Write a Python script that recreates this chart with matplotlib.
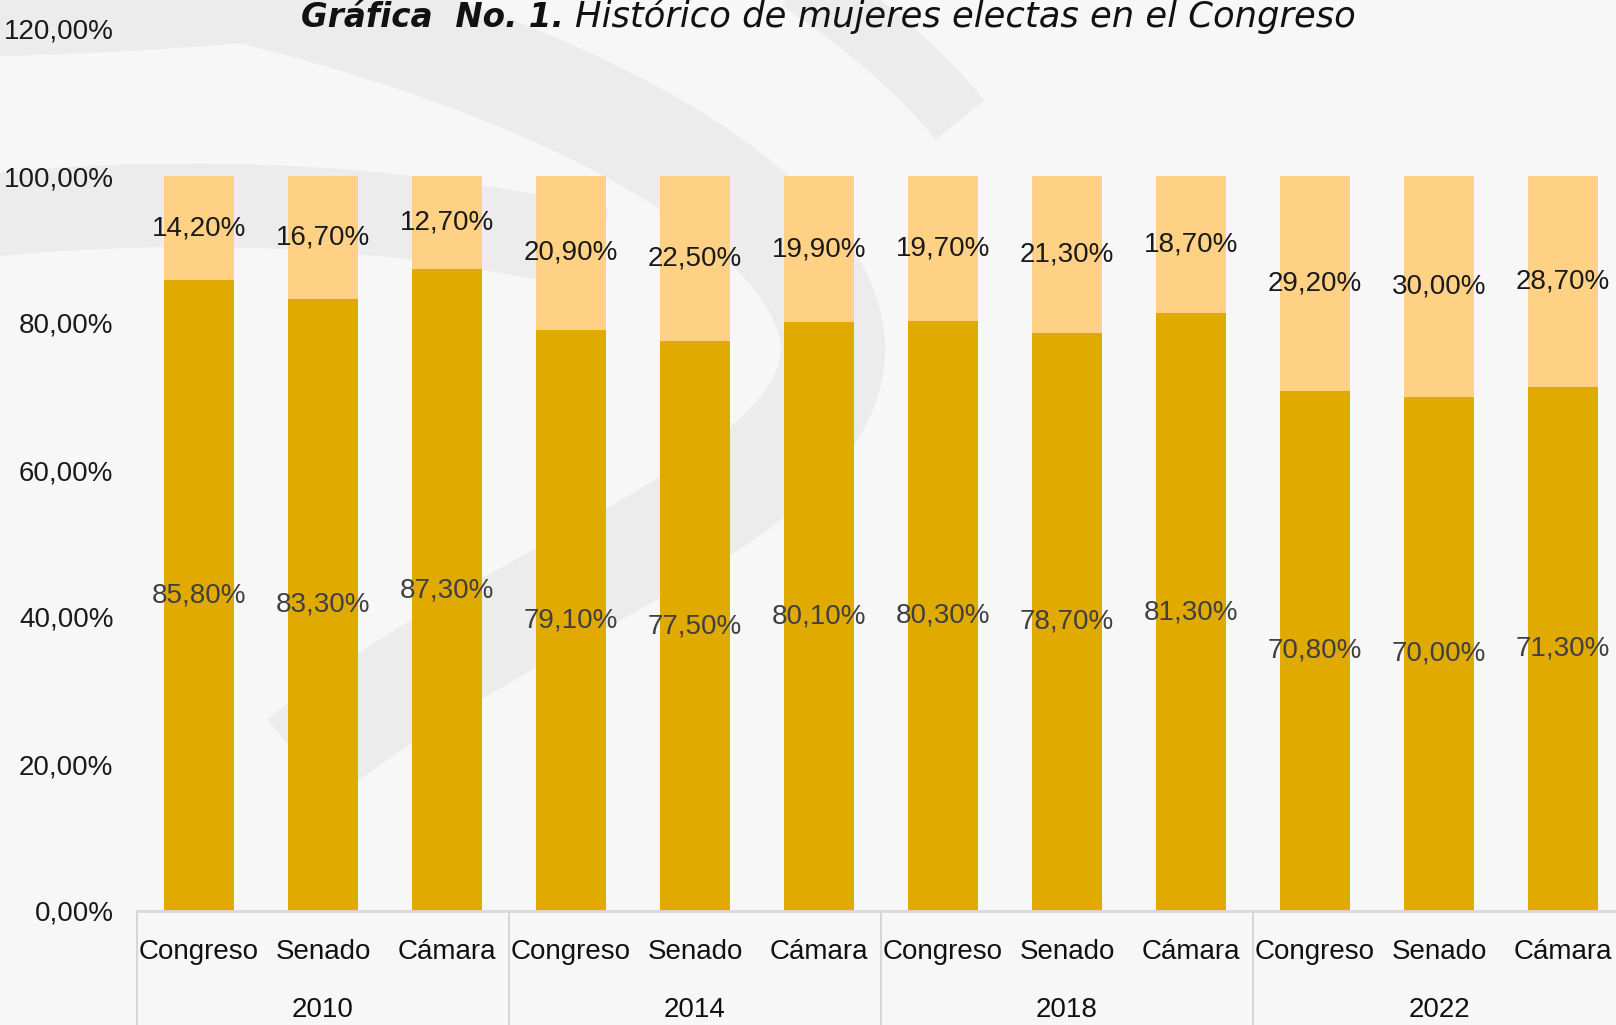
import matplotlib
matplotlib.use("Agg")
import matplotlib.pyplot as plt
import matplotlib.transforms as mtransforms
from matplotlib.path import Path
from matplotlib.patches import PathPatch
import numpy as np

# ---- data ----
years = ["2010", "2014", "2018", "2022"]
chambers = ["Congreso", "Senado", "Cámara"]
hombres = [85.8, 83.3, 87.3, 79.1, 77.5, 80.1, 80.3, 78.7, 81.3, 70.8, 70.0, 71.3]
mujeres = [14.2, 16.7, 12.7, 20.9, 22.5, 19.9, 19.7, 21.3, 18.7, 29.2, 30.0, 28.7]
yticks = [0, 20, 40, 60, 80, 100, 120]

dark = "#E1AA00"
light = "#FFD185"

W, H = 1616, 1025
fig = plt.figure(figsize=(W / 100, H / 100), dpi=100)
fig.patch.set_facecolor("#f7f7f7")

plt.rcParams['font.family'] = ['Liberation Sans', 'DejaVu Sans']

# faint watermark bands (decorative background)
bg = fig.add_axes([0, 0, 1, 1], zorder=-1)
bg.set_xlim(0, W); bg.set_ylim(H, 0); bg.axis("off")
def band(pts, lw, c="#ececec"):
    codes = [Path.MOVETO] + [Path.CURVE4] * (len(pts) - 1)
    bg.add_patch(PathPatch(Path(pts, codes), fill=False, lw=lw, ec=c, capstyle="butt"))
band([(150, -30), (600, 60), (900, 250), (820, 400),
      (760, 520), (500, 600), (300, 760)], 75)
band([(-10, 215), (200, 195), (400, 205), (600, 250)], 60)
band([(-10, 15), (150, 10), (300, 0), (420, -20)], 60)
band([(800, -20), (860, 20), (920, 70), (960, 120)], 45)

x0 = 137 / W
ax = fig.add_axes([x0, 1 - 911 / H, 1488 / W, 882 / H])
ax.patch.set_alpha(0)

n = len(hombres)
x = np.arange(n)
bw = 0.565
ax.bar(x, hombres, width=bw, color=dark, zorder=2)
ax.bar(x, mujeres, bottom=hombres, width=bw, color=light, zorder=2)

for i in range(n):
    ax.text(x[i], hombres[i] / 2, f"{hombres[i]:.2f}%".replace(".", ","),
            ha="center", va="center", fontsize=20, color="#404040", zorder=3)
    ax.text(x[i], hombres[i] + mujeres[i] / 2, f"{mujeres[i]:.2f}%".replace(".", ","),
            ha="center", va="center", fontsize=20, color="#1a1a1a", zorder=3)

ax.set_xlim(-0.5, n - 0.5)
ax.set_ylim(0, 120)
ax.set_yticks(yticks)
ax.set_yticklabels([f"{v:.2f}%".replace(".", ",") for v in yticks], fontsize=20, color="#1a1a1a")
ax.tick_params(axis="y", length=0, pad=17)
ax.set_xticks([])
for s in ["top", "right", "left"]:
    ax.spines[s].set_visible(False)
ax.spines["bottom"].set_color("#d9d9d9")
ax.spines["bottom"].set_linewidth(2)

trans = mtransforms.blended_transform_factory(ax.transData, ax.transAxes)
labels = [c for _ in years for c in chambers]
for i, lab in enumerate(labels):
    ax.text(x[i], -0.0465, lab, transform=trans, ha="center", va="center",
            fontsize=20, color="#111111", clip_on=False)
for g, yr in enumerate(years):
    ax.text(3 * g + 1, -0.112, yr, transform=trans, ha="center", va="center",
            fontsize=20, color="#111111", clip_on=False)
    ax.plot([3 * g - 0.5, 3 * g - 0.5], [0, -0.15], transform=trans, color="#d0d0d0",
            lw=1.2, clip_on=False)

fig.text(301 / W, 1 - 27 / H, "Gráfica  No. 1.", fontsize=23.5, fontweight="bold",
         style="italic", family="DejaVu Sans", ha="left", va="baseline", color="#111111")
fig.text(575 / W, 1 - 27 / H, "Histórico de mujeres electas en el Congreso", fontsize=25.5,
         style="italic", family="DejaVu Sans", ha="left", va="baseline", color="#111111")

fig.savefig("out.png", dpi=100, facecolor=fig.get_facecolor())
